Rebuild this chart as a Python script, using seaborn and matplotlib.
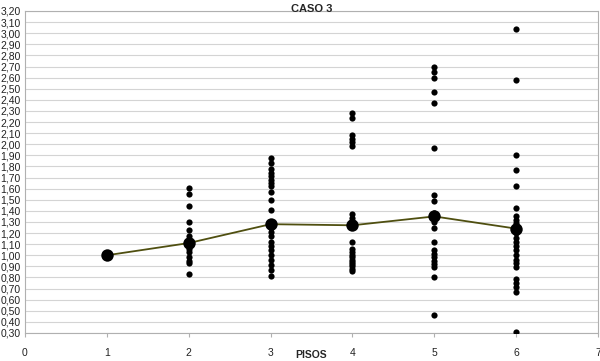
import matplotlib
matplotlib.use("Agg")
import matplotlib.pyplot as plt
import matplotlib.ticker as mticker
import seaborn as sns
import pandas as pd
import numpy as np

# ---- data ----
pisos_mean = [1, 2, 3, 4, 5, 6]
means = [1.00, 1.11, 1.28, 1.27, 1.35, 1.24]

piso2 = [1.61, 1.55, 1.44, 1.30, 1.23, 1.17, 1.14, 1.12, 1.08, 1.06, 1.03, 0.98, 0.95, 0.93, 0.83]
piso3 = [1.88, 1.83, 1.78, 1.74, 1.71, 1.68, 1.65, 1.62, 1.57, 1.50, 1.41, 1.30, 1.25, 1.21,
         1.17, 1.12, 1.08, 1.05, 1.00, 0.96, 0.91, 0.87, 0.81]
piso4 = [2.28, 2.24, 2.08, 2.05, 2.02, 1.98, 1.37, 1.34, 1.31, 1.12, 1.06, 1.03, 1.00, 0.98,
         0.96, 0.94, 0.92, 0.90, 0.88, 0.86]
piso5 = [2.70, 2.65, 2.60, 2.47, 2.37, 1.97, 1.54, 1.49, 1.38, 1.30, 1.25, 1.12, 1.05, 1.01,
         0.98, 0.95, 0.92, 0.89, 0.80, 0.46]
piso6 = [3.04, 2.58, 1.90, 1.77, 1.62, 1.43, 1.35, 1.32, 1.29, 1.20, 1.16, 1.12, 1.08, 1.05,
         1.00, 0.96, 0.93, 0.89, 0.79, 0.75, 0.71, 0.67, 0.31]

x_ticks = [0, 1, 2, 3, 4, 5, 6, 7]
title = "CASO 3"
xlabel = "PISOS"

# ---- build tables ----
groups = {2: piso2, 3: piso3, 4: piso4, 5: piso5, 6: piso6}
scatter_df = pd.DataFrame(
    [(p, v) for p, vals in groups.items() for v in vals], columns=["piso", "valor"]
)
mean_df = pd.DataFrame({"piso": pisos_mean, "valor": means})

sns.set_style("white")
plt.rcParams["font.family"] = ["Liberation Sans", "DejaVu Sans"]

fig = plt.figure(figsize=(6.0, 3.61), dpi=100)
ax = fig.add_axes([25 / 600, 1 - 333 / 361, (598 - 25) / 600, (333 - 11) / 361])

sns.scatterplot(data=scatter_df, x="piso", y="valor", ax=ax, color="black",
                s=20, linewidth=0, zorder=3, legend=False)
sns.lineplot(data=mean_df, x="piso", y="valor", ax=ax, color="#4f4f10",
             linewidth=1.3, zorder=4, legend=False)
sns.scatterplot(data=mean_df, x="piso", y="valor", ax=ax, color="black",
                s=80, linewidth=0, zorder=5, legend=False)

ax.set_xlim(0, 7)
ax.set_ylim(0.30, 3.20)
ax.set_xticks(x_ticks)
ax.yaxis.set_major_locator(mticker.MultipleLocator(0.10))
ax.yaxis.set_major_formatter(mticker.FuncFormatter(lambda v, p: f"{v:.2f}".replace(".", ",")))

ax.grid(axis="y", color="#d4d4d4", linewidth=0.8)
ax.set_axisbelow(True)
for s in ax.spines.values():
    s.set_color("#b0b0b0")
    s.set_linewidth(0.8)

ax.tick_params(axis="y", length=0, pad=3, labelsize=7.5, labelcolor="#222222")
ax.tick_params(axis="x", length=3, color="#b0b0b0", pad=8, labelsize=7.5, labelcolor="#222222",
               bottom=True)

ax.set_xlabel("")
ax.set_ylabel("")
fig.text(311.5 / 600, 1 - 355.5 / 361, xlabel, fontsize=7.5, fontweight="bold",
         ha="center", va="center")
ax.set_title(title, fontsize=8, fontweight="bold", pad=-1)

fig.savefig("out.png", dpi=100)
